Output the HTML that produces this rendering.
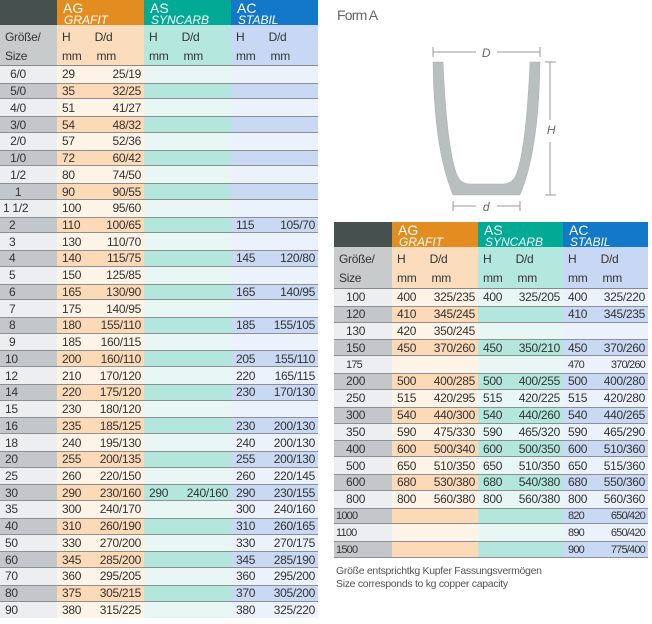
<!DOCTYPE html>
<html><head><meta charset="utf-8"><style>
*{margin:0;padding:0;box-sizing:border-box}
body{width:652px;height:624px;background:#fff;position:relative;overflow:hidden;font-family:"Liberation Sans",sans-serif;color:#333;font-size:12px;letter-spacing:-0.3px}
.t{position:absolute}
.hd{position:absolute;left:0;top:0;height:25px;width:100%}
.hd span{position:absolute;top:0;height:100%;color:#fff;font-size:14px;line-height:12px;padding:2px 0 0 6px;letter-spacing:0}
.hd span i{font-size:12px;display:block;padding-left:1px;letter-spacing:0}
.sh{position:absolute;left:0;width:100%}
.sh span{position:absolute;top:0;height:100%;font-size:12px;line-height:19px;padding:3px 0 0 5px}
.rows{position:absolute;left:0;width:100%;display:flex;flex-direction:column}
.r{position:relative;flex:1 1 0}
.r span{position:absolute;top:0;bottom:0;display:flex;align-items:center}
.r em{font-style:normal;position:absolute;top:50%;transform:translateY(-50%)}
.r em.h{left:5px}.r em.d{right:3px}
.r .c0{padding-left:5px}
.r .c1{background:#fdf3e6}.r .c2{background:#e8f7f4}.r .c3{background:#ecf2fb}.r .c0{background:#eceef0}
.r.k .c1{background:#fcd9b7}.r.k .c2{background:#b3e7de}.r.k .c3{background:#c9d9f4}.r.k .c0{background:#c4c7c9}
.r.k span{border-top:1px solid #8d9092;border-bottom:1px solid #8d9092}
.ctr{display:inline-block;width:26px;text-align:center}
.sm{font-size:11px;letter-spacing:-0.8px}
</style></head><body>

<!-- LEFT TABLE -->
<div class="t" style="left:0;top:0;width:318px;height:620px;">
 <div class="hd">
  <span style="left:0;width:57px;background:#45504f"></span>
  <span style="left:57px;width:87px;background:#e38c1f">AG<i>GRAFIT</i></span>
  <span style="left:144px;width:87px;background:#00aa95">AS<i>SYNCARB</i></span>
  <span style="left:231px;width:87px;background:#1378c8">AC<i>STABIL</i></span>
 </div>
 <div class="sh" style="top:25px;height:40px">
  <span style="left:0;width:57px;background:#c8cbcc">Größe/<br>Size</span>
  <span style="left:57px;width:87px;background:#fbdcbd">H&nbsp;&nbsp;&nbsp;&nbsp;&nbsp;&nbsp;&nbsp;&nbsp;D/d<br>mm&nbsp;&nbsp;&nbsp;&nbsp;&nbsp;mm</span>
  <span style="left:144px;width:87px;background:#b4e8df">H&nbsp;&nbsp;&nbsp;&nbsp;&nbsp;&nbsp;&nbsp;&nbsp;D/d<br>mm&nbsp;&nbsp;&nbsp;&nbsp;&nbsp;mm</span>
  <span style="left:231px;width:87px;background:#c8d8f4">H&nbsp;&nbsp;&nbsp;&nbsp;&nbsp;&nbsp;&nbsp;&nbsp;D/d<br>mm&nbsp;&nbsp;&nbsp;&nbsp;&nbsp;mm</span>
 </div>
 <div style="position:absolute;left:0;top:65px;width:318px;height:1px;background:#888"></div>
 <div class="rows" style="top:66px;height:552px">
<div class="r"><span class="c0" style="left:0;width:57px"><b class="ctr" style="font-weight:normal">6/0</b></span><span class="c1" style="left:57px;width:87px"><em class="h">29</em><em class="d">25/19</em></span><span class="c2" style="left:144px;width:87px"></span><span class="c3" style="left:231px;width:87px"></span></div>
<div class="r k"><span class="c0" style="left:0;width:57px"><b class="ctr" style="font-weight:normal">5/0</b></span><span class="c1" style="left:57px;width:87px"><em class="h">35</em><em class="d">32/25</em></span><span class="c2" style="left:144px;width:87px"></span><span class="c3" style="left:231px;width:87px"></span></div>
<div class="r"><span class="c0" style="left:0;width:57px"><b class="ctr" style="font-weight:normal">4/0</b></span><span class="c1" style="left:57px;width:87px"><em class="h">51</em><em class="d">41/27</em></span><span class="c2" style="left:144px;width:87px"></span><span class="c3" style="left:231px;width:87px"></span></div>
<div class="r k"><span class="c0" style="left:0;width:57px"><b class="ctr" style="font-weight:normal">3/0</b></span><span class="c1" style="left:57px;width:87px"><em class="h">54</em><em class="d">48/32</em></span><span class="c2" style="left:144px;width:87px"></span><span class="c3" style="left:231px;width:87px"></span></div>
<div class="r"><span class="c0" style="left:0;width:57px"><b class="ctr" style="font-weight:normal">2/0</b></span><span class="c1" style="left:57px;width:87px"><em class="h">57</em><em class="d">52/36</em></span><span class="c2" style="left:144px;width:87px"></span><span class="c3" style="left:231px;width:87px"></span></div>
<div class="r k"><span class="c0" style="left:0;width:57px"><b class="ctr" style="font-weight:normal">1/0</b></span><span class="c1" style="left:57px;width:87px"><em class="h">72</em><em class="d">60/42</em></span><span class="c2" style="left:144px;width:87px"></span><span class="c3" style="left:231px;width:87px"></span></div>
<div class="r"><span class="c0" style="left:0;width:57px"><b class="ctr" style="font-weight:normal">1/2</b></span><span class="c1" style="left:57px;width:87px"><em class="h">80</em><em class="d">74/50</em></span><span class="c2" style="left:144px;width:87px"></span><span class="c3" style="left:231px;width:87px"></span></div>
<div class="r k"><span class="c0" style="left:0;width:57px"><b class="ctr" style="font-weight:normal">1</b></span><span class="c1" style="left:57px;width:87px"><em class="h">90</em><em class="d">90/55</em></span><span class="c2" style="left:144px;width:87px"></span><span class="c3" style="left:231px;width:87px"></span></div>
<div class="r"><span class="c0" style="left:0;width:57px;padding-left:3px">1 1/2</span><span class="c1" style="left:57px;width:87px"><em class="h">100</em><em class="d">95/60</em></span><span class="c2" style="left:144px;width:87px"></span><span class="c3" style="left:231px;width:87px"></span></div>
<div class="r k"><span class="c0" style="left:0;width:57px;padding-left:9px">2</span><span class="c1" style="left:57px;width:87px"><em class="h">110</em><em class="d">100/65</em></span><span class="c2" style="left:144px;width:87px"></span><span class="c3" style="left:231px;width:87px"><em class="h">115</em><em class="d">105/70</em></span></div>
<div class="r"><span class="c0" style="left:0;width:57px;padding-left:9px">3</span><span class="c1" style="left:57px;width:87px"><em class="h">130</em><em class="d">110/70</em></span><span class="c2" style="left:144px;width:87px"></span><span class="c3" style="left:231px;width:87px"></span></div>
<div class="r k"><span class="c0" style="left:0;width:57px;padding-left:9px">4</span><span class="c1" style="left:57px;width:87px"><em class="h">140</em><em class="d">115/75</em></span><span class="c2" style="left:144px;width:87px"></span><span class="c3" style="left:231px;width:87px"><em class="h">145</em><em class="d">120/80</em></span></div>
<div class="r"><span class="c0" style="left:0;width:57px;padding-left:9px">5</span><span class="c1" style="left:57px;width:87px"><em class="h">150</em><em class="d">125/85</em></span><span class="c2" style="left:144px;width:87px"></span><span class="c3" style="left:231px;width:87px"></span></div>
<div class="r k"><span class="c0" style="left:0;width:57px;padding-left:9px">6</span><span class="c1" style="left:57px;width:87px"><em class="h">165</em><em class="d">130/90</em></span><span class="c2" style="left:144px;width:87px"></span><span class="c3" style="left:231px;width:87px"><em class="h">165</em><em class="d">140/95</em></span></div>
<div class="r"><span class="c0" style="left:0;width:57px;padding-left:9px">7</span><span class="c1" style="left:57px;width:87px"><em class="h">175</em><em class="d">140/95</em></span><span class="c2" style="left:144px;width:87px"></span><span class="c3" style="left:231px;width:87px"></span></div>
<div class="r k"><span class="c0" style="left:0;width:57px;padding-left:9px">8</span><span class="c1" style="left:57px;width:87px"><em class="h">180</em><em class="d">155/110</em></span><span class="c2" style="left:144px;width:87px"></span><span class="c3" style="left:231px;width:87px"><em class="h">185</em><em class="d">155/105</em></span></div>
<div class="r"><span class="c0" style="left:0;width:57px;padding-left:9px">9</span><span class="c1" style="left:57px;width:87px"><em class="h">185</em><em class="d">160/115</em></span><span class="c2" style="left:144px;width:87px"></span><span class="c3" style="left:231px;width:87px"></span></div>
<div class="r k"><span class="c0" style="left:0;width:57px">10</span><span class="c1" style="left:57px;width:87px"><em class="h">200</em><em class="d">160/110</em></span><span class="c2" style="left:144px;width:87px"></span><span class="c3" style="left:231px;width:87px"><em class="h">205</em><em class="d">155/110</em></span></div>
<div class="r"><span class="c0" style="left:0;width:57px">12</span><span class="c1" style="left:57px;width:87px"><em class="h">210</em><em class="d">170/120</em></span><span class="c2" style="left:144px;width:87px"></span><span class="c3" style="left:231px;width:87px"><em class="h">220</em><em class="d">165/115</em></span></div>
<div class="r k"><span class="c0" style="left:0;width:57px">14</span><span class="c1" style="left:57px;width:87px"><em class="h">220</em><em class="d">175/120</em></span><span class="c2" style="left:144px;width:87px"></span><span class="c3" style="left:231px;width:87px"><em class="h">230</em><em class="d">170/130</em></span></div>
<div class="r"><span class="c0" style="left:0;width:57px">15</span><span class="c1" style="left:57px;width:87px"><em class="h">230</em><em class="d">180/120</em></span><span class="c2" style="left:144px;width:87px"></span><span class="c3" style="left:231px;width:87px"></span></div>
<div class="r k"><span class="c0" style="left:0;width:57px">16</span><span class="c1" style="left:57px;width:87px"><em class="h">235</em><em class="d">185/125</em></span><span class="c2" style="left:144px;width:87px"></span><span class="c3" style="left:231px;width:87px"><em class="h">230</em><em class="d">200/130</em></span></div>
<div class="r"><span class="c0" style="left:0;width:57px">18</span><span class="c1" style="left:57px;width:87px"><em class="h">240</em><em class="d">195/130</em></span><span class="c2" style="left:144px;width:87px"></span><span class="c3" style="left:231px;width:87px"><em class="h">240</em><em class="d">200/130</em></span></div>
<div class="r k"><span class="c0" style="left:0;width:57px">20</span><span class="c1" style="left:57px;width:87px"><em class="h">255</em><em class="d">200/135</em></span><span class="c2" style="left:144px;width:87px"></span><span class="c3" style="left:231px;width:87px"><em class="h">255</em><em class="d">200/130</em></span></div>
<div class="r"><span class="c0" style="left:0;width:57px">25</span><span class="c1" style="left:57px;width:87px"><em class="h">260</em><em class="d">220/150</em></span><span class="c2" style="left:144px;width:87px"></span><span class="c3" style="left:231px;width:87px"><em class="h">260</em><em class="d">220/145</em></span></div>
<div class="r k"><span class="c0" style="left:0;width:57px">30</span><span class="c1" style="left:57px;width:87px"><em class="h">290</em><em class="d">230/160</em></span><span class="c2" style="left:144px;width:87px"><em class="h">290</em><em class="d">240/160</em></span><span class="c3" style="left:231px;width:87px"><em class="h">290</em><em class="d">230/155</em></span></div>
<div class="r"><span class="c0" style="left:0;width:57px">35</span><span class="c1" style="left:57px;width:87px"><em class="h">300</em><em class="d">240/170</em></span><span class="c2" style="left:144px;width:87px"></span><span class="c3" style="left:231px;width:87px"><em class="h">300</em><em class="d">240/160</em></span></div>
<div class="r k"><span class="c0" style="left:0;width:57px">40</span><span class="c1" style="left:57px;width:87px"><em class="h">310</em><em class="d">260/190</em></span><span class="c2" style="left:144px;width:87px"></span><span class="c3" style="left:231px;width:87px"><em class="h">310</em><em class="d">260/165</em></span></div>
<div class="r"><span class="c0" style="left:0;width:57px">50</span><span class="c1" style="left:57px;width:87px"><em class="h">330</em><em class="d">270/200</em></span><span class="c2" style="left:144px;width:87px"></span><span class="c3" style="left:231px;width:87px"><em class="h">330</em><em class="d">270/175</em></span></div>
<div class="r k"><span class="c0" style="left:0;width:57px">60</span><span class="c1" style="left:57px;width:87px"><em class="h">345</em><em class="d">285/200</em></span><span class="c2" style="left:144px;width:87px"></span><span class="c3" style="left:231px;width:87px"><em class="h">345</em><em class="d">285/190</em></span></div>
<div class="r"><span class="c0" style="left:0;width:57px">70</span><span class="c1" style="left:57px;width:87px"><em class="h">360</em><em class="d">295/205</em></span><span class="c2" style="left:144px;width:87px"></span><span class="c3" style="left:231px;width:87px"><em class="h">360</em><em class="d">295/200</em></span></div>
<div class="r k"><span class="c0" style="left:0;width:57px">80</span><span class="c1" style="left:57px;width:87px"><em class="h">375</em><em class="d">305/215</em></span><span class="c2" style="left:144px;width:87px"></span><span class="c3" style="left:231px;width:87px"><em class="h">370</em><em class="d">305/200</em></span></div>
<div class="r"><span class="c0" style="left:0;width:57px">90</span><span class="c1" style="left:57px;width:87px"><em class="h">380</em><em class="d">315/225</em></span><span class="c2" style="left:144px;width:87px"></span><span class="c3" style="left:231px;width:87px"><em class="h">380</em><em class="d">325/220</em></span></div>
 </div>
</div>

<!-- FORM A -->
<div class="t" style="left:337px;top:7px;font-size:14px;color:#666;letter-spacing:-0.8px">Form A</div>
<svg class="t" style="left:330px;top:0" width="322" height="220" viewBox="330 0 322 220">
 <path d="M433,62 L443,62 Q447,150 457,175 Q461,184 470,184 L503,184 Q512,184 516,175 Q526,150 530,62 L540,62 Q539,150 520,195 L453,195 Q434,150 433,62 Z" fill="#b9bfbf" stroke="#a9afaf" stroke-width="0.5"/>
 <g stroke="#999" stroke-width="1" fill="none">
  <line x1="433" y1="52" x2="476" y2="52"/><line x1="497" y1="52" x2="540" y2="52"/>
  <line x1="433" y1="47" x2="433" y2="57"/><line x1="540" y1="47" x2="540" y2="57"/>
  <line x1="550" y1="62" x2="550" y2="120"/><line x1="550" y1="142" x2="550" y2="195"/>
  <line x1="545" y1="62" x2="556" y2="62"/><line x1="545" y1="195" x2="556" y2="195"/>
  <line x1="453" y1="206" x2="476" y2="206"/><line x1="497" y1="206" x2="520" y2="206"/>
  <line x1="453" y1="201" x2="453" y2="211"/><line x1="520" y1="201" x2="520" y2="211"/>
 </g>
 <text x="486" y="57" font-size="12" font-style="italic" fill="#666" text-anchor="middle" font-family="Liberation Sans">D</text>
 <text x="551" y="134" font-size="12" font-style="italic" fill="#666" text-anchor="middle" font-family="Liberation Sans">H</text>
 <text x="486" y="211" font-size="12" font-style="italic" fill="#666" text-anchor="middle" font-family="Liberation Sans">d</text>
</svg>

<!-- RIGHT TABLE -->
<div class="t" style="left:334px;top:222px;width:314px;height:337px;">
 <div class="hd">
  <span style="left:0;width:58px;background:#45504f"></span>
  <span style="left:58px;width:86px;background:#e38c1f">AG<i>GRAFIT</i></span>
  <span style="left:144px;width:85px;background:#00aa95">AS<i>SYNCARB</i></span>
  <span style="left:229px;width:85px;background:#1378c8">AC<i>STABIL</i></span>
 </div>
 <div class="sh" style="top:25px;height:41px">
  <span style="left:0;width:58px;background:#c8cbcc">Größe/<br>Size</span>
  <span style="left:58px;width:86px;background:#fbdcbd">H&nbsp;&nbsp;&nbsp;&nbsp;&nbsp;&nbsp;&nbsp;&nbsp;D/d<br>mm&nbsp;&nbsp;&nbsp;&nbsp;&nbsp;mm</span>
  <span style="left:144px;width:85px;background:#b4e8df">H&nbsp;&nbsp;&nbsp;&nbsp;&nbsp;&nbsp;&nbsp;&nbsp;D/d<br>mm&nbsp;&nbsp;&nbsp;&nbsp;&nbsp;mm</span>
  <span style="left:229px;width:85px;background:#c8d8f4">H&nbsp;&nbsp;&nbsp;&nbsp;&nbsp;&nbsp;&nbsp;&nbsp;D/d<br>mm&nbsp;&nbsp;&nbsp;&nbsp;&nbsp;mm</span>
 </div>
 <div style="position:absolute;left:0;top:66px;width:314px;height:1px;background:#888"></div>
 <div class="rows" style="top:67px;height:269px">
<div class="r"><span class="c0" style="left:0;width:58px;padding-left:12px">100</span><span class="c1" style="left:58px;width:86px"><em class="h">400</em><em class="d">325/235</em></span><span class="c2" style="left:144px;width:85px"><em class="h">400</em><em class="d">325/205</em></span><span class="c3" style="left:229px;width:85px"><em class="h">400</em><em class="d">325/220</em></span></div>
<div class="r k"><span class="c0" style="left:0;width:58px;padding-left:12px">120</span><span class="c1" style="left:58px;width:86px"><em class="h">410</em><em class="d">345/245</em></span><span class="c2" style="left:144px;width:85px"></span><span class="c3" style="left:229px;width:85px"><em class="h">410</em><em class="d">345/235</em></span></div>
<div class="r"><span class="c0" style="left:0;width:58px;padding-left:12px">130</span><span class="c1" style="left:58px;width:86px"><em class="h">420</em><em class="d">350/245</em></span><span class="c2" style="left:144px;width:85px"></span><span class="c3" style="left:229px;width:85px"></span></div>
<div class="r k"><span class="c0" style="left:0;width:58px;padding-left:12px">150</span><span class="c1" style="left:58px;width:86px"><em class="h">450</em><em class="d">370/260</em></span><span class="c2" style="left:144px;width:85px"><em class="h">450</em><em class="d">350/210</em></span><span class="c3" style="left:229px;width:85px"><em class="h">450</em><em class="d">370/260</em></span></div>
<div class="r"><span class="c0 sm" style="left:0;width:58px;padding-left:12px">175</span><span class="c1" style="left:58px;width:86px"></span><span class="c2" style="left:144px;width:85px"></span><span class="c3 sm" style="left:229px;width:85px"><em class="h">470</em><em class="d">370/260</em></span></div>
<div class="r k"><span class="c0" style="left:0;width:58px;padding-left:12px">200</span><span class="c1" style="left:58px;width:86px"><em class="h">500</em><em class="d">400/285</em></span><span class="c2" style="left:144px;width:85px"><em class="h">500</em><em class="d">400/255</em></span><span class="c3" style="left:229px;width:85px"><em class="h">500</em><em class="d">400/280</em></span></div>
<div class="r"><span class="c0" style="left:0;width:58px;padding-left:12px">250</span><span class="c1" style="left:58px;width:86px"><em class="h">515</em><em class="d">420/295</em></span><span class="c2" style="left:144px;width:85px"><em class="h">515</em><em class="d">420/225</em></span><span class="c3" style="left:229px;width:85px"><em class="h">515</em><em class="d">420/280</em></span></div>
<div class="r k"><span class="c0" style="left:0;width:58px;padding-left:12px">300</span><span class="c1" style="left:58px;width:86px"><em class="h">540</em><em class="d">440/300</em></span><span class="c2" style="left:144px;width:85px"><em class="h">540</em><em class="d">440/260</em></span><span class="c3" style="left:229px;width:85px"><em class="h">540</em><em class="d">440/265</em></span></div>
<div class="r"><span class="c0" style="left:0;width:58px;padding-left:12px">350</span><span class="c1" style="left:58px;width:86px"><em class="h">590</em><em class="d">475/330</em></span><span class="c2" style="left:144px;width:85px"><em class="h">590</em><em class="d">465/320</em></span><span class="c3" style="left:229px;width:85px"><em class="h">590</em><em class="d">465/290</em></span></div>
<div class="r k"><span class="c0" style="left:0;width:58px;padding-left:12px">400</span><span class="c1" style="left:58px;width:86px"><em class="h">600</em><em class="d">500/340</em></span><span class="c2" style="left:144px;width:85px"><em class="h">600</em><em class="d">500/350</em></span><span class="c3" style="left:229px;width:85px"><em class="h">600</em><em class="d">510/360</em></span></div>
<div class="r"><span class="c0" style="left:0;width:58px;padding-left:12px">500</span><span class="c1" style="left:58px;width:86px"><em class="h">650</em><em class="d">510/350</em></span><span class="c2" style="left:144px;width:85px"><em class="h">650</em><em class="d">510/350</em></span><span class="c3" style="left:229px;width:85px"><em class="h">650</em><em class="d">515/360</em></span></div>
<div class="r k"><span class="c0" style="left:0;width:58px;padding-left:12px">600</span><span class="c1" style="left:58px;width:86px"><em class="h">680</em><em class="d">530/380</em></span><span class="c2" style="left:144px;width:85px"><em class="h">680</em><em class="d">540/380</em></span><span class="c3" style="left:229px;width:85px"><em class="h">680</em><em class="d">550/360</em></span></div>
<div class="r"><span class="c0" style="left:0;width:58px;padding-left:12px">800</span><span class="c1" style="left:58px;width:86px"><em class="h">800</em><em class="d">560/380</em></span><span class="c2" style="left:144px;width:85px"><em class="h">800</em><em class="d">560/380</em></span><span class="c3" style="left:229px;width:85px"><em class="h">800</em><em class="d">560/360</em></span></div>
<div class="r k"><span class="c0 sm" style="left:0;width:58px;padding-left:2px">1000</span><span class="c1" style="left:58px;width:86px"></span><span class="c2" style="left:144px;width:85px"></span><span class="c3 sm" style="left:229px;width:85px"><em class="h">820</em><em class="d">650/420</em></span></div>
<div class="r"><span class="c0 sm" style="left:0;width:58px;padding-left:2px">1100</span><span class="c1" style="left:58px;width:86px"></span><span class="c2" style="left:144px;width:85px"></span><span class="c3 sm" style="left:229px;width:85px"><em class="h">890</em><em class="d">650/420</em></span></div>
<div class="r k"><span class="c0 sm" style="left:0;width:58px;padding-left:2px">1500</span><span class="c1" style="left:58px;width:86px"></span><span class="c2" style="left:144px;width:85px"></span><span class="c3 sm" style="left:229px;width:85px"><em class="h">900</em><em class="d">775/400</em></span></div>
 </div>
</div>

<div class="t" style="left:336px;top:565px;font-size:10.5px;color:#555;line-height:13px;letter-spacing:-0.3px">Größe entsprichtkg Kupfer Fassungsvermögen<br>Size corresponds to kg copper capacity</div>
</body></html>
